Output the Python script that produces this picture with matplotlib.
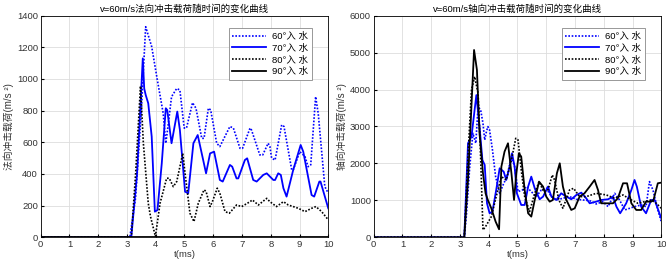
import matplotlib
matplotlib.use("Agg")
import matplotlib.pyplot as plt
import numpy as np

plt.rcParams['font.family'] = ['Liberation Sans', 'Noto Sans CJK SC', 'DejaVu Sans']

labels = ["60°入 水", "70°入 水", "80°入 水", "90°入 水"]

# ---- Left chart: normal impact load ----
n60_t = [0, 3.1, 3.3, 3.5, 3.65, 3.86, 4.05, 4.26, 4.35, 4.44, 4.55, 4.73, 4.84, 4.99, 5.07, 5.28, 5.40, 5.6, 5.68,
         5.83, 5.91, 6.12, 6.23, 6.58, 6.70, 6.93, 7.02, 7.28, 7.33, 7.62, 7.72, 7.91, 7.97, 8.03, 8.15, 8.38,
         8.46, 8.73, 8.78, 9.01, 9.19, 9.30, 9.39, 9.56, 9.65, 9.88, 10.0]
n60_v = [0, 0, 250, 800, 1330, 1204, 1000, 783, 594, 720, 888, 940, 930, 690, 690, 850, 815, 625, 625,
         815, 805, 594, 573, 700, 690, 562, 562, 690, 678, 520, 520, 594, 573, 500, 488, 710,
         700, 425, 425, 541, 510, 446, 457, 888, 783, 320, 278]

n70_t = [0, 3.15, 3.35, 3.55, 3.60, 3.65, 3.74, 3.86, 3.97, 4.06, 4.21, 4.35, 4.40, 4.55, 4.75, 4.84, 5.02, 5.13,
         5.31, 5.46, 5.65, 5.75, 5.89, 6.03, 6.23, 6.33, 6.58, 6.66, 6.81, 6.87, 7.10, 7.18, 7.39, 7.51,
         7.74, 7.86, 8.09, 8.15, 8.26, 8.35, 8.44, 8.55, 8.78, 9.04, 9.13, 9.42, 9.51, 9.69, 9.73, 10.0]
n70_v = [0, 0, 400, 1130, 940, 900, 846, 636, 162, 172, 467, 815, 804, 594, 794, 678, 288, 278,
         594, 646, 488, 404, 530, 541, 362, 352, 457, 446, 372, 372, 488, 499, 362, 352,
         394, 404, 362, 362, 404, 394, 310, 257, 425, 583, 541, 267, 257, 352, 352, 183]

n80_t = [0, 3.15, 3.3, 3.47, 3.57, 3.74, 3.82, 3.99, 4.15, 4.38, 4.47, 4.61, 4.73, 4.94, 5.02, 5.19, 5.33, 5.48,
         5.68, 5.75, 5.89, 5.97, 6.14, 6.23, 6.41, 6.56, 6.81, 6.99, 7.28, 7.36, 7.57, 7.86, 7.97, 8.20,
         8.44, 8.61, 8.78, 8.96, 9.19, 9.42, 9.57, 9.77, 10.0]
n80_v = [0, 0, 400, 955, 594, 215, 130, 5, 215, 373, 373, 320, 352, 530, 404, 152, 99, 215,
         300, 290, 194, 225, 310, 278, 162, 152, 204, 194, 225, 236, 204, 246, 225, 194,
         225, 204, 194, 183, 162, 183, 194, 162, 110]

n90_t = [0, 10.0]
n90_v = [0, 0]

# ---- Right chart: axial impact load ----
a60_t = [0, 3.15, 3.22, 3.34, 3.45, 3.55, 3.63, 3.72, 3.80, 3.86, 3.92, 3.97, 4.03, 4.13, 4.24, 4.38, 4.50, 4.63,
         4.79, 4.90, 5.02, 5.17, 5.31, 5.48, 5.65, 5.83, 6.00, 6.18, 6.35, 6.58, 6.81, 7.05, 7.28, 7.51,
         7.74, 7.97, 8.15, 8.38, 8.55, 8.73, 8.90, 9.07, 9.30, 9.47, 9.59, 9.71, 9.88, 10.0]
a60_v = [0, 0, 559, 1913, 2815, 2545, 3537, 3447, 3086, 2635, 2860, 2996, 2905, 2364, 1642, 1191, 1417, 1642,
         2184, 1913, 1236, 1281, 1372, 1236, 1101, 1281, 1326, 1101, 1010, 1056, 1101, 1029, 1010, 992,
         902, 965, 830, 1191, 1010, 740, 785, 830, 875, 830, 1507, 1281, 740, 424]

a70_t = [0, 3.15, 3.28, 3.40, 3.57, 3.68, 3.78, 3.86, 3.94, 4.03, 4.13, 4.26, 4.38, 4.52, 4.61, 4.73, 4.81, 4.90,
         4.98, 5.13, 5.25, 5.37, 5.48, 5.60, 5.77, 5.89, 6.06, 6.18, 6.35, 6.52, 6.70, 6.87, 7.05, 7.22,
         7.39, 7.51, 7.74, 7.91, 8.15, 8.32, 8.44, 8.57, 8.78, 8.96, 9.07, 9.15, 9.30, 9.47, 9.65, 9.77, 10.0]
a70_v = [0, 0, 2545, 2725, 3850, 2996, 2093, 1958, 920, 650, 695, 1281, 1868, 1777, 1552, 1913, 2274, 1913,
         1191, 875, 875, 1372, 1642, 1326, 1029, 1101, 1372, 1101, 1010, 1191, 1101, 1029, 1146, 1209,
         1056, 920, 965, 1010, 1029, 1101, 830, 650, 920, 1281, 1552, 1372, 830, 650, 1010, 1010, 514]

a80_t = [0, 3.15, 3.28, 3.40, 3.51, 3.63, 3.71, 3.80, 3.89, 4.09, 4.26, 4.44, 4.61, 4.79, 4.94, 5.02, 5.13, 5.25,
         5.42, 5.60, 5.75, 5.91, 6.06, 6.21, 6.29, 6.44, 6.58, 6.81, 6.95, 7.16, 7.39, 7.74, 8.09, 8.38,
         8.67, 8.96, 9.19, 9.42, 9.65, 9.83, 10.0]
a80_v = [0, 0, 2200, 3988, 4350, 3898, 2364, 199, 289, 559, 1101, 1642, 1552, 2093, 2680, 2635, 1823, 1101,
         695, 1191, 1507, 1236, 1281, 1687, 1552, 1010, 785, 1281, 1326, 1101, 1101, 1191, 1146, 1056,
         1146, 1010, 920, 965, 1010, 920, 785]

a90_t = [0, 3.15, 3.28, 3.49, 3.59, 3.68, 3.80, 3.89, 3.97, 4.09, 4.24, 4.36, 4.44, 4.55, 4.67, 4.79, 4.88, 4.96,
         5.05, 5.13, 5.25, 5.37, 5.48, 5.60, 5.75, 5.89, 6.00, 6.12, 6.23, 6.37, 6.47, 6.58, 6.70, 6.87,
         6.99, 7.16, 7.33, 7.51, 7.68, 7.80, 7.91, 8.09, 8.32, 8.49, 8.67, 8.81, 8.96, 9.13, 9.30, 9.47,
         9.65, 9.73, 9.88, 10.0]
a90_v = [0, 0, 1552, 5071, 4530, 2815, 1732, 1191, 1010, 785, 424, 217, 1913, 2319, 2545, 1732, 1010, 1732,
         2274, 2184, 1281, 650, 560, 1010, 1507, 1372, 1101, 965, 1010, 1732, 2003, 1372, 1010, 740,
         785, 1101, 1191, 1372, 1552, 1281, 920, 920, 920, 1056, 1462, 1462, 920, 740, 740, 965,
         965, 1010, 1462, 1480]

titles = ["v=60m/s法向冲击载荷随时间的变化曲线", "v=60m/s轴向冲击载荷随时间的变化曲线"]
ylabels = ["法向冲击载荷(m/s ²)", "轴向冲击载荷(m/s ²)"]
xticks = list(range(0, 11))

fig = plt.figure(figsize=(6.66, 2.62), dpi=100)
ax1 = fig.add_axes([0.0611, 0.0943, 0.4318, 0.846])
ax2 = fig.add_axes([0.5611, 0.0943, 0.4318, 0.846])

styles = [dict(color='#0000ff', linestyle=(0, (1, 1)), linewidth=1.2),
          dict(color='#0000ff', linestyle='-', linewidth=1.3),
          dict(color='black', linestyle=(0, (1, 1)), linewidth=1.2),
          dict(color='black', linestyle='-', linewidth=1.3)]

left_series = [(n60_t, n60_v), (n70_t, n70_v), (n80_t, n80_v), (n90_t, n90_v)]
right_series = [(a60_t, a60_v), (a70_t, a70_v), (a80_t, a80_v), (a90_t, a90_v)]

for ax, series, title, ylab, ymax, ystep in [
        (ax1, left_series, titles[0], ylabels[0], 1400, 200),
        (ax2, right_series, titles[1], ylabels[1], 6000, 1000)]:
    for (t, v), st, lab in zip(series, styles, labels):
        ax.plot(t, v, label=lab, **st)
    ax.set_xlim(0, 10)
    ax.set_ylim(0, ymax)
    ax.set_xticks(xticks)
    ax.set_yticks(np.arange(0, ymax + 1, ystep))
    ax.grid(True, color='#dddddd', linewidth=0.6)
    ax.set_axisbelow(True)
    ax.tick_params(labelsize=6.8, length=2, direction='in', pad=2, labelcolor='#333333')
    ax.set_title(title, fontsize=6.8, pad=3)
    ax.set_xlabel("t(ms)", fontsize=6.8, labelpad=1, color='#333333')
    ax.set_ylabel(ylab, fontsize=7, labelpad=2, color='#333333')
    for s in ax.spines.values():
        s.set_linewidth(0.6)
    leg = ax.legend(loc='upper right', bbox_to_anchor=(0.96, 0.965), fontsize=6.8,
                    fancybox=False, edgecolor='#888888', framealpha=1,
                    handlelength=3.6, borderpad=0.4, labelspacing=0.3, handletextpad=0.6)
    leg.get_frame().set_linewidth(0.6)

fig.savefig("out.png", dpi=100)
